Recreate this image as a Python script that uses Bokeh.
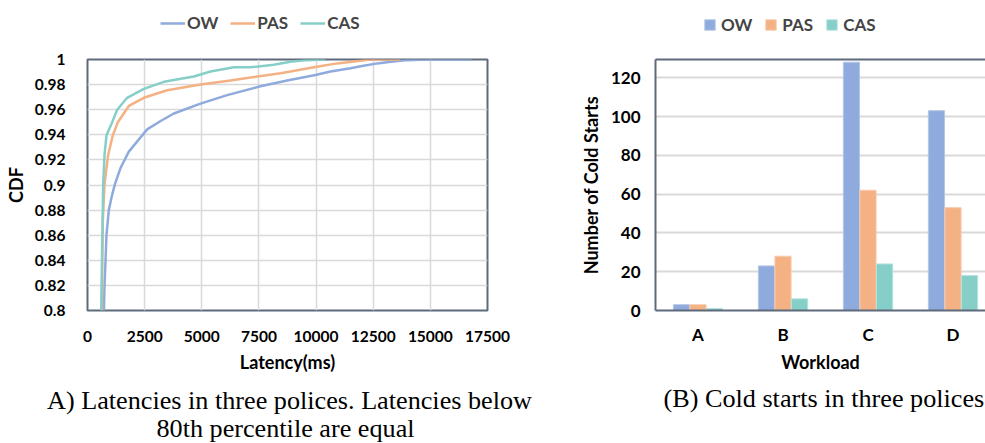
from bokeh.plotting import figure
from bokeh.models import (Range1d, Legend, LegendItem, Label, FixedTicker,
                          ColumnDataSource, LinearAxis)
from bokeh.layouts import row, column
from bokeh.transform import dodge
from bokeh.embed import file_html
from bokeh.resources import INLINE

# ---------------- data ----------------
policies = ["OW", "PAS", "CAS"]

# latency CDF (latency in ms, cumulative fraction)
ow_latency = [720, 744, 790, 830, 933, 1050, 1196, 1444, 1808, 2610, 3200, 3777,
              4944, 6110, 7569, 8736, 9975, 10631, 11506, 12017, 12674, 13183,
              13988, 14800, 16800]
ow_cdf = [0.80, 0.82, 0.84, 0.86, 0.88, 0.89, 0.9005, 0.9135, 0.9266, 0.9443,
          0.951, 0.957, 0.9648, 0.9716, 0.9787, 0.9833, 0.9877, 0.9904, 0.993,
          0.9948, 0.9969, 0.998, 0.9995, 1.0, 1.0]

pas_latency = [630, 650, 671, 744, 904, 1108, 1327, 1808, 2464, 3485, 4944,
               6256, 7131, 8444, 8881, 9902, 10923, 11944, 12381, 13694]
pas_cdf = [0.80, 0.84, 0.872, 0.9005, 0.924, 0.9396, 0.95, 0.963, 0.9695,
           0.9755, 0.980, 0.9833, 0.9857, 0.989, 0.9904, 0.9938, 0.9969, 0.999,
           1.0, 1.0]

cas_latency = [600, 640, 686, 744, 831, 1079, 1300, 1735, 2464, 3339, 4652,
               5381, 6402, 7131, 8152, 8881, 9611, 10340, 10410]
cas_cdf = [0.80, 0.85, 0.9005, 0.924, 0.9396, 0.95, 0.96, 0.9695, 0.9766,
           0.9822, 0.9865, 0.9904, 0.9938, 0.9938, 0.9958, 0.9982, 0.9995,
           1.0, 1.0]

latency_ticks = [0, 2500, 5000, 7500, 10000, 12500, 15000, 17500]
latency_tick_labels = ["0", "2500", "5000", "7500", "10000", "12500", "15000", "17500"]
cdf_ticks = [0.8, 0.82, 0.84, 0.86, 0.88, 0.9, 0.92, 0.94, 0.96, 0.98, 1.0]
cdf_tick_labels = ["0.8", "0.82", "0.84", "0.86", "0.88", "0.9", "0.92",
                   "0.94", "0.96", "0.98", "1"]

# cold starts per workload
workloads = ["A", "B", "C", "D"]
ow_cold = [3, 23, 128, 103]
pas_cold = [3, 28, 62, 53]
cas_cold = [1, 6, 24, 18]
cold_ticks = [0, 20, 40, 60, 80, 100, 120]

caption_a = ["A) Latencies in three polices. Latencies below",
             "80th percentile are equal"]
caption_b = "(B) Cold starts in three polices"

# ---------------- styling ----------------
COLORS = ["#8FAADC", "#F4B183", "#86CFC9"]
EDGES = ["#B4C7E7", "#F8CBAD", "#B5E2DE"]
FRAME = "#5E6A7B"
GRID = "#D9D9D9"
FONT = "Lato"
CAPTION_FONT = "Liberation Serif"
W = 985
TOP_H = 44
MID_H = 340
BOT_H = 443 - TOP_H - MID_H
NAN = float("nan")


def style_axis(ax, size, label_size="18px"):
    ax.major_tick_line_color = None
    ax.minor_tick_line_color = None
    ax.major_tick_out = 0
    ax.major_tick_in = 0
    ax.minor_tick_out = 0
    ax.minor_tick_in = 0
    ax.major_label_text_font = FONT
    ax.major_label_text_font_style = "bold"
    ax.major_label_text_font_size = size
    ax.major_label_text_color = "black"
    ax.axis_label_text_font = FONT
    ax.axis_label_text_font_style = "bold"
    ax.axis_label_text_font_size = label_size
    ax.axis_label_text_color = "black"


def blank_strip(height):
    """A figure whose frame is the whole canvas, in pixel data units."""
    s = figure(width=W, height=height, output_backend="svg", toolbar_location=None,
               x_range=Range1d(0, W), y_range=Range1d(0, height),
               x_axis_location=None, y_axis_location=None,
               min_border_left=0, min_border_right=0, min_border_top=0,
               min_border_bottom=0)
    s.outline_line_color = None
    s.xgrid.grid_line_color = None
    s.ygrid.grid_line_color = None
    return s


# ---------------- legends strip ----------------
# proxy renderers (one undrawn point each) that only carry the legend styling
top = blank_strip(TOP_H)
line_items, bar_items = [], []
for name, color, edge in zip(policies, COLORS, EDGES):
    lr = top.line([NAN], [NAN], line_color=color, line_width=2.5)
    line_items.append(LegendItem(label=name, renderers=[lr]))
    br = top.vbar(x=[NAN], top=[NAN], width=1, fill_color=color, line_color=edge)
    bar_items.append(LegendItem(label=name, renderers=[br]))

legend_style = dict(orientation="horizontal", padding=0, margin=0,
                    border_line_color=None, background_fill_alpha=0,
                    label_text_font=FONT, label_text_font_style="bold",
                    label_text_font_size="17px", label_height=18)
top.add_layout(Legend(items=line_items, location=(160, 11), glyph_width=25,
                      glyph_height=14, label_standoff=2, spacing=12,
                      **legend_style), "center")
top.add_layout(Legend(items=bar_items, location=(703, 9), glyph_width=13,
                      glyph_height=13, label_standoff=5, spacing=12,
                      **legend_style), "center")

# ---------------- left: latency CDF ----------------
p1 = figure(width=560, height=MID_H, output_backend="svg", toolbar_location=None,
            x_range=Range1d(0, 17500), y_range=Range1d(0.8, 1.0),
            min_border_left=87, min_border_right=73, min_border_top=56 - TOP_H,
            min_border_bottom=MID_H - (312 - TOP_H))
p1.outline_line_color = FRAME
p1.outline_line_width = 2
p1.xgrid.grid_line_color = GRID
p1.ygrid.grid_line_color = GRID
p1.xgrid.grid_line_width = 1.5
p1.ygrid.grid_line_width = 1.5

p1.xaxis.ticker = FixedTicker(ticks=latency_ticks)
p1.xaxis.major_label_overrides = dict(zip(latency_ticks, latency_tick_labels))
p1.yaxis.ticker = FixedTicker(ticks=cdf_ticks)
p1.yaxis.major_label_overrides = dict(zip(cdf_ticks, cdf_tick_labels))
for ax in (p1.xaxis[0], p1.yaxis[0]):
    style_axis(ax, "15.5px")
    ax.axis_line_color = None
p1.xaxis.axis_label = "Latency(ms)"
p1.yaxis.axis_label = "CDF"
p1.xaxis.major_label_standoff = 20
p1.xaxis.axis_label_standoff = 6
p1.yaxis.major_label_standoff = 22
p1.yaxis.axis_label_standoff = 5

cdf_series = [(ow_latency, ow_cdf), (pas_latency, pas_cdf), (cas_latency, cas_cdf)]
for (xs, ys), color in zip(cdf_series, COLORS):
    p1.line(xs, ys, line_color=color, line_width=2.5)

# ---------------- right: cold starts ----------------
src = ColumnDataSource(dict(x=list(range(len(workloads))), ow=ow_cold,
                            pas=pas_cold, cas=cas_cold))

p2 = figure(width=W - 560, height=MID_H, output_backend="svg", toolbar_location=None,
            x_range=Range1d(-0.5, 3.382), y_range=Range1d(0, 129.4),
            min_border_left=95, min_border_right=0, min_border_top=59 - TOP_H,
            min_border_bottom=MID_H - (310 - TOP_H))
p2.outline_line_color = None
p2.xgrid.grid_line_color = None
p2.ygrid.grid_line_color = GRID
p2.ygrid.grid_line_width = 2

p2.xaxis.ticker = FixedTicker(ticks=list(range(len(workloads))))
p2.xaxis.major_label_overrides = {i: w for i, w in enumerate(workloads)}
p2.yaxis.ticker = FixedTicker(ticks=cold_ticks)
for ax in (p2.xaxis[0], p2.yaxis[0]):
    style_axis(ax, "17px")
    ax.axis_line_color = FRAME
    ax.axis_line_width = 2
p2.xaxis.axis_label = "Workload"
p2.yaxis.axis_label = "Number of Cold Starts"
p2.xaxis.major_label_standoff = 13
p2.xaxis.axis_label_standoff = 3
p2.yaxis.major_label_standoff = 15
p2.yaxis.axis_label_standoff = 6

top_axis = LinearAxis(axis_line_color=FRAME, axis_line_width=2,
                      major_tick_line_color=None, minor_tick_line_color=None,
                      major_tick_out=0, major_tick_in=0,
                      major_label_text_font_size="0px", ticker=FixedTicker(ticks=[]))
p2.add_layout(top_axis, "above")

for col, off, color, edge in zip(["ow", "pas", "cas"], [-0.195, 0.0, 0.195],
                                 COLORS, EDGES):
    p2.vbar(x=dodge("x", off), top=col, width=0.19, source=src,
            fill_color=color, line_color=edge, line_width=1)

# ---------------- captions strip ----------------
bot = blank_strip(BOT_H)
cap_style = dict(text_font=CAPTION_FONT, text_font_size="26.2px",
                 text_color="black", text_baseline="middle")
bot.add_layout(Label(x=289, y=BOT_H - (400 - (TOP_H + MID_H)), text=caption_a[0],
                     text_align="center", **cap_style))
bot.add_layout(Label(x=285, y=BOT_H - (428 - (TOP_H + MID_H)), text=caption_a[1],
                     text_align="center", **cap_style))
bot.add_layout(Label(x=663, y=BOT_H - (398 - (TOP_H + MID_H)), text=caption_b,
                     text_align="left", **cap_style))

layout = column(top, row(p1, p2), bot)
open("out.html", "w").write(file_html(layout, INLINE))
